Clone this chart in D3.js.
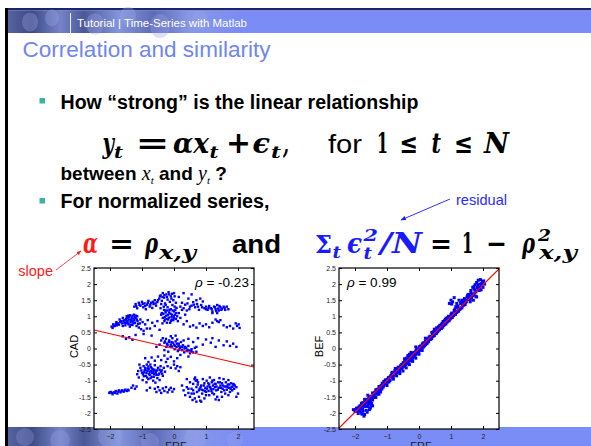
<!DOCTYPE html>
<html><head><meta charset="utf-8">
<script src="https://cdn.jsdelivr.net/npm/d3@7"></script>
<style>body{margin:0;background:#fff}svg{display:block}</style>
</head><body>
<script>
// ---------- data ----------
const headerText = "Tutorial | Time-Series with Matlab";
const titleText = "Correlation and similarity";
const xTicks = [-2, -1, 0, 1, 2];
const yTicks = [-2.5, -2, -1.5, -1, -0.5, 0, 0.5, 1, 1.5, 2, 2.5];
const rhoCad = -0.23;
const rhoBef = 0.99;
const axisNames = {left: ["FRF", "CAD"], right: ["FRF", "BEF"]};

const frfCad = [
[-1.24,1.3],[-1.2,1.38],[-1.15,1.25],[-1.1,1.42],[-1.05,1.33],[-1.0,1.45],[-0.96,1.28],[-0.92,1.4],[-0.88,1.22],[-0.84,1.36],[-0.8,1.48],[-0.76,1.3],[-0.72,1.42],[-0.68,1.26],[-0.64,1.38],[-0.6,1.5],[-0.56,1.33],[-0.52,1.44],
[-0.46,1.55],[-0.42,1.65],[-0.38,1.48],[-0.35,1.72],[-0.31,1.58],[-0.28,1.4],[-0.24,1.68],[-0.2,1.52],[-0.17,1.75],[-0.13,1.45],[-0.1,1.62],[-0.06,1.7],[-0.02,1.5],[0.02,1.62],[0.06,1.42],[-0.4,1.38],
[-0.42,1.25],[-0.38,1.1],[-0.35,0.95],[-0.32,1.3],[-0.3,0.85],[-0.27,1.18],[-0.24,1.02],[-0.2,1.28],[-0.18,0.9],[-0.15,1.12],[-0.12,0.8],[-0.1,1.22],[-0.08,0.98],[-0.05,1.35],[-0.02,0.88],[0.0,1.15],[0.03,1.05],[0.06,0.92],[0.08,1.26],[0.12,0.85],[0.15,1.1],[-0.36,0.78],[-0.22,0.8],[-0.06,1.05],[0.1,1.0],[-0.4,1.05],[-0.26,1.35],[0.02,1.3],[0.2,0.95],[0.25,1.2],[0.3,0.75],[0.35,1.05],[0.4,0.85],
[0.2,1.3],[0.25,1.42],[0.3,1.25],[0.35,1.36],[0.42,1.4],[0.48,1.22],[0.55,1.33],[0.6,1.44],[0.66,1.28],[0.72,1.38],[0.78,1.2],[0.85,1.35],[0.9,1.46],[0.95,1.25],[0.4,1.18],[0.7,1.5],[0.82,1.55],[1.0,1.3],[1.05,1.2],[1.1,1.32],[1.15,1.25],[1.2,1.15],[1.25,1.3],[1.3,1.22],[1.35,1.35],[1.4,1.18],[1.45,1.28],[1.5,1.24],[1.55,1.3],[1.6,1.2],[1.65,1.3],[1.7,1.22],[1.2,1.1],[1.35,1.1],[0.15,1.6],[0.3,1.72],[0.45,1.55],[0.55,1.68],
[-1.95,0.68],[-1.9,0.75],[-1.85,0.7],[-1.8,0.82],[-1.75,0.78],[-1.7,0.9],[-1.65,0.85],[-1.6,0.95],[-1.55,0.8],[-1.5,0.92],[-1.48,1.0],[-1.45,0.86],[-1.42,0.75],[-1.4,0.98],[-1.36,0.82],[-1.33,0.9],[-1.3,1.02],[-1.27,0.78],[-1.24,0.88],[-1.2,0.95],[-1.17,0.7],[-1.14,0.85],[-1.1,0.65],[-1.07,0.78],[-1.03,0.6],[-1.25,1.05],[-1.38,0.68],[-1.52,0.72],[-1.6,0.7],[-1.15,1.0],[-1.05,0.9],[-0.98,0.82],[-0.9,0.75],[-0.82,0.88],[-0.75,0.62],[-0.68,0.8],[-0.6,0.7],[-0.52,0.85],[-0.45,0.58],[-0.95,0.55],[-0.85,0.62],
[-1.6,0.38],[-1.5,0.3],[-1.4,0.35],[-1.3,0.27],[-1.2,0.42],[-0.95,0.45],[-0.7,0.4],
[0.6,0.72],[0.7,0.65],[0.8,0.78],[0.9,0.7],[1.0,0.75],[1.1,0.66],[1.2,0.8],[1.3,0.9],[1.35,0.85],[1.4,0.82],[1.45,0.88],[1.55,0.72],[1.65,0.66],[1.75,0.7],[1.85,0.62],[1.93,0.78],[1.97,0.7],[2.02,0.75],[2.05,0.64],[0.5,0.68],
[0.45,0.3],[0.6,0.2],[0.75,0.32],[0.9,0.12],[1.0,0.28],[1.15,0.18],[1.3,0.05],[1.4,0.25],[1.55,0.1],[1.65,0.22],[1.75,0.08],[1.85,0.15],[1.95,0.05],[1.2,0.32],[0.7,0.05],
[-0.4,0.25],[-0.35,0.32],[-0.3,0.18],[-0.25,0.3],[-0.2,0.1],[-0.15,0.25],[-0.12,0.05],[-0.08,0.2],[-0.05,0.32],[0.0,0.12],[0.02,-0.02],[0.05,0.22],[0.08,0.05],[0.1,0.28],[0.12,-0.08],[0.15,0.15],[0.18,0.02],[0.22,0.2],[0.25,-0.05],[0.28,0.1],[0.32,-0.12],[0.35,0.05],[0.4,-0.08],[0.45,0.08],[0.5,-0.15],[0.55,-0.02],[0.6,-0.12],[0.65,0.02],[0.7,-0.1],[-0.45,0.12],[-0.55,0.05],[-0.3,-0.05],[-0.18,-0.1],[0.3,0.25],[-0.1,0.38],[0.05,0.4],[0.2,-0.2],[0.45,-0.25],
[-0.9,-0.3],[-0.8,-0.42],[-0.7,-0.28],[-0.6,-0.38],[-0.5,-0.25],[-0.4,-0.36],[-0.3,-0.22],[-0.2,-0.32],[-0.1,-0.26],[0.0,-0.4],[0.1,-0.3],[-0.25,-0.42],
[-1.15,-0.8],[-1.12,-0.7],[-1.1,-0.9],[-1.05,-0.6],[-1.0,-0.75],[-0.98,-0.98],[-0.95,-0.55],[-0.92,-0.68],[-0.88,-0.85],[-0.85,-0.5],[-0.82,-0.62],[-0.8,-0.95],[-0.76,-0.72],[-0.72,-0.58],[-0.7,-0.88],[-0.66,-0.65],[-0.62,-0.8],[-0.6,-0.52],[-0.56,-0.7],[-0.52,-0.92],[-0.5,-0.6],[-0.46,-0.78],[-0.42,-0.55],[-0.38,-0.68],[-0.35,-0.85],[-0.32,-0.6],[-0.28,-0.72],[-0.9,-0.6],[-0.78,-0.8],[-0.65,-1.0],[-1.08,-0.5],[-0.86,-1.05],[-0.58,-1.06],[-0.45,-0.98],[-0.74,-0.5],[-0.55,-0.82],
[0.0,-0.5],[0.05,-0.62],[0.1,-0.55],[0.15,-0.7],[0.2,-0.58],[-0.1,-0.6],[-0.2,-0.55],
[-2.02,-1.38],[-1.97,-1.35],[-1.92,-1.42],[-1.87,-1.36],[-1.82,-1.32],[-1.77,-1.4],[-1.72,-1.3],[-1.67,-1.36],[-1.62,-1.3],[-1.57,-1.34],[-1.52,-1.28],[-1.47,-1.32],[-1.42,-1.3],[-1.33,-1.22],[-1.28,-1.15],[-1.22,-1.25],[-1.17,-1.18],
[-0.6,-1.25],[-0.55,-1.35],[-0.5,-1.2],[-0.45,-1.3],[-0.4,-1.38],[-0.35,-1.24],[-0.3,-1.32],[-0.25,-1.2],[-0.2,-1.36],[-0.15,-1.28],[-0.1,-1.22],[-0.05,-1.34],[0.0,-1.26],[-0.85,-1.3],[-0.75,-1.22],
[0.3,-1.3],[0.35,-1.45],[0.4,-1.2],[0.45,-1.38],[0.5,-1.5],[0.55,-1.25],[0.6,-1.1],[0.62,-1.4],[0.65,-1.55],[0.7,-1.2],[0.72,-1.35],[0.75,-1.05],[0.78,-1.5],[0.8,-1.25],[0.82,-1.62],[0.85,-1.15],[0.88,-1.4],[0.9,-0.95],[0.92,-1.3],[0.95,-1.08],[0.98,-1.22],[1.0,-1.45],[1.02,-1.0],[1.05,-1.18],[1.08,-1.32],[1.1,-1.12],[1.12,-0.9],[1.15,-1.25],[1.18,-1.05],[1.2,-1.38],[1.22,-1.15],[1.25,-0.98],[1.28,-1.2],[1.3,-1.1],[1.32,-1.3],[1.35,-1.5],[1.38,-1.05],[1.4,-1.22],[1.42,-0.92],[1.45,-1.15],[1.48,-1.35],[1.5,-1.08],[1.52,-1.25],[1.55,-0.95],[1.58,-1.18],[1.6,-1.4],[1.62,-1.05],[1.65,-1.28],[1.68,-1.12],[1.7,-0.98],[1.72,-1.22],[1.75,-1.35],[1.78,-1.08],[1.8,-1.2],[1.82,-1.3],[1.85,-1.1],[1.88,-1.25],[1.9,-1.15],[1.95,-1.2],[2.0,-1.4],[0.5,-1.05],[0.4,-0.95],[1.4,-1.6],[1.3,-1.58],[0.85,-1.65],[0.7,-1.65],[1.95,-1.5],[0.25,-1.15],[0.66,-0.9],[0.72,-0.98],[0.95,-1.55],[1.1,-1.45],[1.25,-1.42],[1.5,-1.5],[1.7,-1.45],[0.58,-1.6],
[-1.54,0.88],[-1.5,0.8],[-1.46,0.95],[-1.44,0.78],[-1.41,0.9],[-1.38,1.03],[-1.35,0.74],[-1.32,0.96],[-1.29,0.84],[-1.26,0.93],[-1.22,0.8],[-1.19,1.02],[-1.16,0.9],[-1.12,0.76],[-1.47,0.84],[-1.34,0.87],[-1.23,0.98],[-1.3,0.73],[-1.43,1.02],[-1.58,0.86],[-1.62,0.78],[-1.68,0.82],[-1.72,0.74],[-1.78,0.72],[-1.82,0.76],[-1.88,0.7],[-1.92,0.64],
[-0.33,1.08],[-0.29,0.98],[-0.26,1.12],[-0.23,0.92],[-0.19,1.05],[-0.16,0.96],[-0.14,1.2],[-0.11,1.08],[-0.07,0.9],[-0.04,1.18],[-0.01,1.0],[0.04,1.2],[0.07,1.1],[-0.21,1.18],[-0.31,1.2],[-0.09,0.86],[-0.28,0.9],[0.0,0.95],
[-1.18,1.32],[-1.08,1.36],[-0.98,1.38],[-0.9,1.32],[-0.82,1.42],[-0.74,1.36],[-0.66,1.45],[-0.58,1.4],[-0.5,1.5],[-0.44,1.62],[-0.36,1.6],[-0.3,1.66],[-0.22,1.6],[-0.15,1.68],[-0.08,1.55],[0.0,1.72],
[0.5,1.3],[0.62,1.36],[0.75,1.3],[0.88,1.28],[1.0,1.22],[1.08,1.26],[1.18,1.22],[1.28,1.28],[1.38,1.24],[1.48,1.2],[1.58,1.26],[1.32,1.16],[1.42,1.32],
[-0.28,0.22],[-0.22,0.15],[-0.16,0.2],[-0.1,0.12],[-0.04,0.18],[0.03,0.08],[0.09,0.15],[0.14,0.08],[0.2,0.06],[0.26,0.04],[0.33,0.0],[0.38,0.02],[0.42,-0.04],[0.48,-0.06],[0.54,-0.08],[-0.24,0.05],[-0.06,0.06],[0.16,-0.04],
[-1.02,-0.68],[-0.97,-0.8],[-0.93,-0.74],[-0.89,-0.66],[-0.86,-0.76],[-0.83,-0.7],[-0.79,-0.64],[-0.75,-0.82],[-0.71,-0.7],[-0.68,-0.76],[-0.64,-0.72],[-0.61,-0.66],[-0.57,-0.76],[-0.53,-0.68],[-0.49,-0.82],[-0.45,-0.66],[-0.41,-0.72],[-0.37,-0.78],[-0.94,-0.86],[-0.84,-0.9],[-0.73,-0.92],[-0.63,-0.88],[-0.69,-0.62],[-0.8,-0.56],
[0.74,-1.12],[0.78,-1.3],[0.83,-1.2],[0.87,-1.28],[0.93,-1.15],[0.97,-1.32],[1.03,-1.25],[1.07,-1.08],[1.13,-1.2],[1.17,-1.32],[1.23,-1.26],[1.27,-1.1],[1.33,-1.18],[1.37,-1.28],[1.43,-1.05],[1.47,-1.22],[1.53,-1.15],[1.57,-1.3],[1.63,-1.18],[1.67,-1.2],[1.73,-1.12],[1.77,-1.25],[1.83,-1.18],[1.87,-1.12],[0.68,-1.0],[0.64,-0.95],[1.0,-1.35],[1.2,-1.0],[0.6,-1.3],[0.55,-1.4],[0.45,-1.25],
[-2.0,-1.36],[-1.94,-1.38],[-1.84,-1.38],[-1.74,-1.34],[-1.64,-1.32],[-1.54,-1.3],[-1.44,-1.28]
];

const frfBef = [
[1.5,1.6],[1.55,1.68],[1.6,1.62],[1.62,1.8],[1.65,1.7],[1.68,1.9],[1.7,1.66],[1.72,1.84],[1.75,1.98],[1.78,1.76],[1.8,2.05],[1.82,1.9],[1.85,2.12],[1.88,1.8],[1.9,2.0],[1.92,2.14],[1.95,1.95],[1.98,2.08],[2.0,1.9],[2.05,2.0],[1.78,1.62],[1.6,1.52],[1.45,1.5],[1.4,1.45],[1.35,1.5],
[0.95,1.4],[1.0,1.5],[1.05,1.45],[1.1,1.58],[1.18,1.4],[1.25,1.5],[1.02,1.38],
[0.5,0.56],[0.55,0.5],[0.6,0.66],[0.65,0.62],[0.7,0.74],[0.75,0.72],[0.8,0.86],[0.85,0.82],[0.9,0.96],[0.95,0.92],[1.0,1.06],[1.05,1.02],[1.1,1.18],[1.15,1.12],[1.2,1.28],[1.25,1.22],[1.3,1.4],[1.35,1.32],[1.4,1.38],[1.45,1.42],[0.6,0.55],[0.7,0.62],[0.8,0.76],[0.9,0.86],[1.0,0.96],[1.1,1.08],[1.2,1.16],[0.55,0.64],[0.65,0.72],[0.75,0.84],[0.85,0.94],[1.3,1.25],[0.4,0.5],[0.45,0.42],[0.48,0.6],[1.15,1.3],
[-0.6,-0.65],[-0.55,-0.5],[-0.5,-0.55],[-0.45,-0.42],[-0.4,-0.48],[-0.35,-0.32],[-0.3,-0.38],[-0.25,-0.22],[-0.2,-0.28],[-0.15,-0.12],[-0.1,-0.18],[-0.05,-0.02],[0.0,-0.08],[0.05,0.08],[0.1,0.02],[0.15,0.18],[0.2,0.12],[0.25,0.28],[0.3,0.22],[0.35,0.38],[-0.5,-0.45],[-0.4,-0.38],[-0.3,-0.28],[-0.2,-0.18],[-0.1,-0.08],[0.0,0.02],[0.1,0.12],[0.2,0.22],[0.3,0.32],[-0.45,-0.55],[-0.35,-0.45],[-0.25,-0.35],[-0.15,-0.25],[-0.05,-0.15],[0.05,-0.05],[0.15,0.05],[-0.55,-0.62],[-0.65,-0.58],[-0.7,-0.75],[-0.75,-0.68],[0.4,0.32],[0.45,0.52],[-0.2,-0.38],[-0.1,-0.3],[-0.3,-0.18],[-0.4,-0.3],[0.25,0.15],[0.35,0.28],[-0.6,-0.78],[-0.5,-0.7],
[-0.8,-0.85],[-0.85,-0.78],[-0.9,-0.98],[-0.95,-0.9],[-1.0,-1.05],[-1.05,-0.98],[-1.1,-1.15],[-1.15,-1.08],[-1.2,-1.25],[-1.25,-1.18],[-1.3,-1.35],[-1.35,-1.28],[-1.4,-1.45],[-1.45,-1.38],[-1.5,-1.55],[-1.55,-1.5],[-1.6,-1.62],[-1.65,-1.58],[-1.7,-1.72],[-1.75,-1.68],[-1.8,-1.82],[-1.85,-1.78],[-1.9,-1.9],[-1.95,-1.85],[-2.0,-1.95],[-2.05,-1.9],[-1.6,-1.8],[-1.65,-1.92],[-1.7,-2.05],[-1.75,-1.95],[-1.55,-1.7],[-1.5,-1.78],[-1.8,-2.0],[-1.45,-1.6],[-1.2,-1.35],[-1.0,-1.15],[-0.9,-0.88],[-1.1,-1.02],[-0.7,-0.85],[-0.8,-0.95],[-0.6,-0.72],[-1.55,-1.9],[-1.48,-1.7],
[-1.98,-1.9],[-1.92,-1.95],[-1.88,-1.82],[-1.82,-1.88],[-1.78,-1.75],[-1.72,-1.8],[-1.68,-1.66],[-1.62,-1.7],[-1.58,-1.56],[-1.52,-1.62],[-1.48,-1.48],[-1.42,-1.52],[-1.38,-1.36],[-1.32,-1.42],[-1.28,-1.26],[-1.22,-1.3],[-1.18,-1.15],[-1.12,-1.2],[-1.08,-1.06],[-1.02,-1.1],[-0.98,-0.95],[-0.92,-1.0],[-0.88,-0.84],[-0.82,-0.9],[-0.78,-0.74],[-0.72,-0.8],[-0.68,-0.64],[-0.62,-0.7],[-0.58,-0.54],[-0.52,-0.6],[-0.48,-0.44],[-0.42,-0.5],[-0.38,-0.34],[-0.32,-0.4],[-0.28,-0.24],[-0.22,-0.3],[-0.18,-0.14],[-0.12,-0.2],[-0.08,-0.04],[-0.02,-0.1],[0.02,0.06],[0.08,0.0],[0.12,0.16],[0.18,0.1],[0.22,0.26],[0.28,0.2],[0.32,0.36],[0.38,0.3],[0.42,0.46],[0.48,0.4],[0.52,0.58],[0.58,0.52],[0.62,0.68],[0.68,0.62],[0.72,0.78],[0.78,0.72],[0.82,0.9],[0.88,0.82],[0.92,1.0],[0.98,0.92],[1.02,1.1],[1.08,1.02],[1.12,1.22],[1.18,1.12],[1.22,1.32],[1.28,1.22],[1.32,1.44],[1.38,1.34],[1.42,1.55],[1.48,1.45],[1.52,1.66],[1.58,1.58],[1.62,1.72],[1.68,1.64],[1.72,1.92],[1.76,1.82],[1.84,1.98],[1.9,1.9],[1.96,2.02],[2.02,2.1],
[-0.45,-0.32],[-0.35,-0.22],[-0.25,-0.12],[-0.4,-0.6],[-0.3,-0.5],[-0.2,-0.4],[0.0,-0.18],[0.1,-0.06],[-0.1,0.05],[0.2,0.32],[-1.6,-1.45],[-1.7,-1.58],[-1.8,-1.7],[-1.62,-1.98],[-1.72,-2.1],[-1.78,-2.04],[-1.52,-1.85],[-1.45,-1.78],[-1.35,-1.52],[-1.25,-1.42],
[-1.9,-2.02],[-1.84,-1.95],[-1.76,-1.88],[-1.66,-1.8],[-1.58,-1.72],[-1.44,-1.5],[-1.3,-1.28],[-1.16,-1.26],[-1.04,-0.98],[-0.94,-1.04],[-0.84,-0.74],[-0.74,-0.62],[-0.66,-0.72],[-0.56,-0.58],[-0.44,-0.36],[-0.36,-0.4],[-0.26,-0.18],[-0.16,-0.2],[-0.06,-0.06],[0.04,0.0],[0.14,0.1],[0.24,0.2],[0.34,0.3],[0.44,0.38],[0.54,0.46],[0.64,0.58],[0.74,0.66],[0.84,0.76],[0.94,0.86],[1.04,0.96],[1.14,1.06],[1.24,1.16],[1.34,1.26],[1.44,1.36],[1.54,1.52],[1.64,1.58],[1.74,1.72],[1.86,1.86],[1.94,1.82],[1.8,1.6],[1.7,1.5],[1.6,1.45]
];

// ---------- drawing ----------
const W = 591, H = 446;
const svg = d3.select("body").append("svg").attr("width", W).attr("height", H);
const defs = svg.append("defs");

function texGrad(id) {
  const g = defs.append("linearGradient").attr("id", id).attr("x1", 0).attr("x2", 1).attr("y1", 0).attr("y2", 0);
  [[0,"#55639f"],[0.04,"#3e4a86"],[0.09,"#7584c8"],[0.13,"#4a5897"],[0.19,"#8595dc"],[0.25,"#5c6bb5"],[0.31,"#8898e6"],[0.4,"#7a8cf5"],[1,"#7a8cf5"]]
    .forEach(s => g.append("stop").attr("offset", s[0]).attr("stop-color", s[1]));
}
texGrad("hdr"); texGrad("ftr");

// frame
svg.append("rect").attr("x", 5).attr("y", 8).attr("width", W - 5).attr("height", 2.5).attr("fill", "#1c2470");
svg.append("rect").attr("x", 5).attr("y", 8).attr("width", 3).attr("height", H - 8).attr("fill", "#000");

// header band
svg.append("rect").attr("x", 8).attr("y", 10.5).attr("width", W - 8).attr("height", 22.5).attr("fill", "url(#hdr)");
[[30,22,8],[52,18,7],[95,24,9],[128,16,8],[160,26,10],[200,20,8]].forEach(c =>
  svg.append("ellipse").attr("cx", c[0]).attr("cy", c[1]).attr("rx", c[2]).attr("ry", c[2] * 1.2)
    .attr("fill", "#9aa6e8").attr("opacity", 0.35));
svg.append("line").attr("x1", 70.5).attr("x2", 70.5).attr("y1", 13).attr("y2", 33).attr("stroke", "#e8ecff").attr("stroke-width", 1);
svg.append("text").attr("x", 77).attr("y", 26.5).attr("font-family", "Liberation Sans, Arial").attr("font-size", 11)
  .attr("fill", "#fff").attr("textLength", 170).attr("lengthAdjust", "spacingAndGlyphs").text(headerText);

// title
svg.append("text").attr("x", 22.5).attr("y", 57).attr("font-family", "Liberation Sans, Arial").attr("font-size", 21.5)
  .attr("fill", "#6f86ef").attr("textLength", 248).attr("lengthAdjust", "spacingAndGlyphs").text(titleText);

// bullets
const sans = "Liberation Sans, Arial";
function bullet(y) { svg.append("rect").attr("x", 39.5).attr("y", y).attr("width", 5.5).attr("height", 5.5).attr("fill", "#3bb3a7"); }
bullet(98); bullet(198);
svg.append("text").attr("x", 60.5).attr("y", 109).attr("font-family", sans).attr("font-weight", "bold").attr("font-size", 19.5)
  .attr("textLength", 358).attr("lengthAdjust", "spacingAndGlyphs").text("How \u201Cstrong\u201D is the linear relationship");
svg.append("text").attr("x", 60.5).attr("y", 207.5).attr("font-family", sans).attr("font-weight", "bold").attr("font-size", 19.5)
  .attr("textLength", 209).attr("lengthAdjust", "spacingAndGlyphs").text("For normalized series,");

// between x_t and y_t ?
const bt = svg.append("text").attr("x", 60.5).attr("y", 180).attr("font-family", sans).attr("font-weight", "bold").attr("font-size", 19);
bt.append("tspan").text("between ");
bt.append("tspan").attr("font-family", "Liberation Serif, Times New Roman").attr("font-style", "italic").attr("font-weight", "normal").attr("font-size", 20).text("x");
bt.append("tspan").attr("font-family", "Liberation Serif").attr("font-style", "italic").attr("font-weight", "normal").attr("font-size", 11).attr("dy", 4).text("t");
bt.append("tspan").attr("dy", -4).text(" and ");
bt.append("tspan").attr("font-family", "Liberation Serif, Times New Roman").attr("font-style", "italic").attr("font-weight", "normal").attr("font-size", 20).text("y");
bt.append("tspan").attr("font-family", "Liberation Serif").attr("font-style", "italic").attr("font-weight", "normal").attr("font-size", 11).attr("dy", 4).text("t");
bt.append("tspan").attr("dy", -4).text(" ?");

// math pieces
const serif = "DejaVu Serif, Liberation Serif";
function piece(t, x0, x1, y, size, o = {}) {
  svg.append("text").attr("x", x0).attr("y", y).attr("font-size", size)
    .attr("font-family", o.fam || serif).attr("font-style", o.it === false ? "normal" : "italic")
    .attr("font-weight", o.w || "bold").attr("fill", o.c || "#000")
    .attr("textLength", x1 - x0).attr("lengthAdjust", "spacingAndGlyphs").text(t);
}
// equation 1
const b1 = 153;
piece("y", 102.5, 114, b1, 28);
piece("t", 114, 123, b1 + 5, 17);
piece("=", 135.5, 169.5, b1, 30, {it: false});
piece("\u03B1x", 173, 209, b1, 28);
piece("t", 209.5, 218.5, b1 + 5, 17);
piece("+", 226, 251, b1, 30, {it: false});
piece("\u03F5", 252.5, 270, b1, 28);
piece("t", 271, 281, b1 + 5, 17);
piece(",", 283, 289, b1, 28);
piece("for", 328, 362, b1, 26, {fam: sans, it: false, w: "normal"});
piece("1", 377, 388, b1, 28, {it: false});
piece("\u2264", 399.5, 418, b1, 28, {it: false});
piece("t", 431.5, 441, b1, 28);
piece("\u2264", 454, 473, b1, 28, {it: false});
piece("N", 484, 509, b1, 28);

// equation 2
const b2 = 253;
const blue = "#1a1aff", red = "#ff1a1a";
piece("\u03B1", 83, 98, b2, 28, {c: red});
piece("=", 109, 134, b2, 28, {it: false});
piece("\u03C1", 145, 158, b2, 28);
piece("x,y", 159, 196, b2 + 6, 18);
piece("and", 232, 281, b2, 25, {fam: sans, it: false, w: "bold"});
piece("\u03A3", 315, 332, b2, 24, {it: false, c: blue});
piece("t", 332.5, 341, b2 + 5, 16, {c: blue});
piece("\u03F5", 347, 362, b2, 28, {c: blue});
piece("2", 363.5, 378, b2 - 12, 16, {c: blue});
piece("t", 363.5, 372, b2 + 6, 16, {c: blue});
piece("/N", 380, 422, b2, 28, {c: blue});
piece("=", 430, 452, b2, 28, {it: false});
piece("1", 462, 473, b2, 28, {it: false, w: "bold"});
piece("\u2212", 486, 507, b2, 28, {it: false});
piece("\u03C1", 522, 535, b2, 28);
piece("2", 538, 551, b2 - 12, 16);
piece("x,y", 539, 577, b2 + 6, 18);

// annotations
function arrowMarker(id, col) {
  defs.append("marker").attr("id", id).attr("viewBox", "0 0 10 10").attr("refX", 9).attr("refY", 5)
    .attr("markerWidth", 6).attr("markerHeight", 6).attr("orient", "auto")
    .append("path").attr("d", "M0,1 L10,5 L0,9 z").attr("fill", col);
}
arrowMarker("ab", blue); arrowMarker("ar", red);
svg.append("text").attr("x", 456).attr("y", 205).attr("font-family", sans).attr("font-size", 14.5).attr("fill", "#2a2aff")
  .attr("textLength", 51).attr("lengthAdjust", "spacingAndGlyphs").text("residual");
svg.append("line").attr("x1", 450).attr("y1", 199).attr("x2", 401).attr("y2", 220).attr("stroke", blue).attr("stroke-width", 0.9).attr("marker-end", "url(#ab)");
svg.append("text").attr("x", 53).attr("y", 276).attr("text-anchor", "end").attr("font-family", sans).attr("font-size", 14.5).attr("fill", red).text("slope");
svg.append("line").attr("x1", 56).attr("y1", 270).attr("x2", 81).attr("y2", 251).attr("stroke", red).attr("stroke-width", 0.8).attr("marker-end", "url(#ar)");

// footer band
svg.append("rect").attr("x", 8).attr("y", 427).attr("width", W - 8).attr("height", H - 427).attr("fill", "url(#ftr)");
[[25,437,9],[60,440,10],[110,436,12],[150,442,9],[195,438,11],[235,440,8]].forEach(c =>
  svg.append("ellipse").attr("cx", c[0]).attr("cy", c[1]).attr("rx", c[2]).attr("ry", c[2])
    .attr("fill", "#9aa6e8").attr("opacity", 0.3));

// scatter plots
function scatter(x0, x1, data, rho, names, rhoX, ms) {
  const top = 268, bot = 429;
  const x = d3.scaleLinear().domain([-2.5, 2.5]).range([x0, x1]);
  const y = d3.scaleLinear().domain([-2.5, 2.5]).range([bot, top]);
  const g = svg.append("g");
  g.append("rect").attr("x", x0).attr("y", top).attr("width", x1 - x0).attr("height", bot - top).attr("fill", "#fff");
  const cid = "clip" + x0;
  defs.append("clipPath").attr("id", cid).append("rect").attr("x", x0).attr("y", top).attr("width", x1 - x0).attr("height", bot - top);
  const pg = g.append("g").attr("clip-path", `url(#${cid})`);
  pg.selectAll("rect.p").data(data).join("rect").attr("class", "p")
    .attr("x", d => x(d[0]) - ms / 2).attr("y", d => y(d[1]) - ms / 2).attr("width", ms).attr("height", ms).attr("fill", "#0000ff");
  pg.append("line").attr("x1", x(-2.5)).attr("y1", y(-2.5 * rho)).attr("x2", x(2.5)).attr("y2", y(2.5 * rho))
    .attr("stroke", "#ff0000").attr("stroke-width", 1.2);
  const fs = 7, fam = sans;
  const ax = (gen, tr) => g.append("g").attr("transform", tr).call(gen)
    .call(s => { s.select(".domain").remove(); s.selectAll("text").attr("font-size", fs).attr("font-family", fam).attr("fill", "#222"); s.selectAll("line").attr("stroke", "#000"); });
  ax(d3.axisBottom(x).tickValues(xTicks).tickSize(-3).tickPadding(5).tickFormat(d3.format("d")), `translate(0,${bot})`);
  ax(d3.axisTop(x).tickValues(xTicks).tickSize(-3).tickFormat(""), `translate(0,${top})`);
  ax(d3.axisLeft(y).tickValues(yTicks).tickSize(-3).tickPadding(3).tickFormat(d => String(d)), `translate(${x0},0)`);
  ax(d3.axisRight(y).tickValues(yTicks).tickSize(-3).tickFormat(""), `translate(${x1},0)`);
  g.append("rect").attr("x", x0).attr("y", top).attr("width", x1 - x0).attr("height", bot - top).attr("fill", "none").attr("stroke", "#000").attr("stroke-width", 1.2);
  const rt = g.append("text").attr("x", rhoX).attr("y", 287).attr("font-family", sans).attr("font-size", 13.5).attr("fill", "#000");
  rt.append("tspan").attr("font-style", "italic").text("\u03C1");
  rt.append("tspan").text(" = " + rho.toFixed(2));
  g.append("text").attr("transform", `translate(${x0 - 16},${(top + bot) / 2 - 2}) rotate(-90)`).attr("text-anchor", "middle")
    .attr("font-family", sans).attr("font-size", 11).text(names[1]);
  g.append("text").attr("x", (x0 + x1) / 2 + 2).attr("y", 450).attr("text-anchor", "middle")
    .attr("font-family", sans).attr("font-size", 11).attr("fill", "#222").text(names[0]);
}
scatter(94, 254, frfCad, rhoCad, axisNames.left, 195, 2.4);
scatter(339, 499, frfBef, rhoBef, axisNames.right, 347, 3.0);
</script>
</body></html>
